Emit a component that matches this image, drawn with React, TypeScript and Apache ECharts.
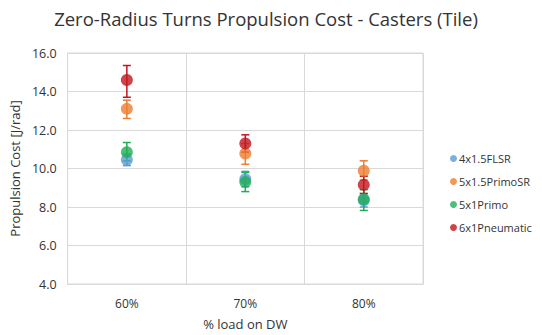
import React, { useEffect, useRef } from "react";
import * as echarts from "echarts";

const categories = ["60%", "70%", "80%"];
const seriesNames = ["4x1.5FLSR", "5x1.5PrimoSR", "5x1Primo", "6x1Pneumatic"];
const colors = ["#5b9bd5", "#ed7d31", "#1fae55", "#c0161e"];

const flsrValues = [10.45, 9.45, 8.35];
const flsrLow = [10.15, 9.05, 8.0];
const flsrHigh = [10.75, 9.85, 8.7];

const primoSRValues = [13.1, 10.78, 9.88];
const primoSRLow = [12.6, 10.22, 9.4];
const primoSRHigh = [13.55, 11.3, 10.4];

const primoValues = [10.85, 9.3, 8.4];
const primoLow = [10.4, 8.8, 7.82];
const primoHigh = [11.35, 9.8, 8.9];

const pneumaticValues = [14.6, 11.3, 9.15];
const pneumaticLow = [13.7, 10.85, 8.7];
const pneumaticHigh = [15.35, 11.75, 9.6];

const yTicks = [4, 6, 8, 10, 12, 14, 16];

const allValues = [flsrValues, primoSRValues, primoValues, pneumaticValues];
const allLow = [flsrLow, primoSRLow, primoLow, pneumaticLow];
const allHigh = [flsrHigh, primoSRHigh, primoHigh, pneumaticHigh];

export default function App() {
  const ref = useRef<HTMLDivElement>(null);
  useEffect(() => {
    if (!ref.current) return;
    const chart = echarts.init(ref.current, undefined, { renderer: "svg" });
    const font = "'Open Sans', sans-serif";
    const textColor = "#333333";
    const series: any[] = [];
    seriesNames.forEach((name, s) => {
      series.push({
        type: "custom",
        name: name + "-err",
        z: 2,
        silent: true,
        data: categories.map((_, i) => [i, allLow[s][i], allHigh[s][i]]),
        encode: { x: 0, y: [1, 2] },
        renderItem: (params: any, api: any) => {
          const i = api.value(0);
          const lo = api.coord([i, api.value(1)]);
          const hi = api.coord([i, api.value(2)]);
          const hw = 4;
          const style = { stroke: colors[s], lineWidth: 1.5 };
          return {
            type: "group",
            children: [
              { type: "line", shape: { x1: lo[0], y1: lo[1], x2: hi[0], y2: hi[1] }, style },
              { type: "line", shape: { x1: lo[0] - hw, y1: lo[1], x2: lo[0] + hw, y2: lo[1] }, style },
              { type: "line", shape: { x1: hi[0] - hw, y1: hi[1], x2: hi[0] + hw, y2: hi[1] }, style },
            ],
          };
        },
      });
    });
    seriesNames.forEach((name, s) => {
      series.push({
        type: "scatter",
        name,
        z: 3,
        symbol: "circle",
        symbolSize: 12,
        itemStyle: { color: colors[s] },
        data: allValues[s].map((v, i) => [i, v]),
      });
    });
    chart.setOption({
      animation: false,
      textStyle: { fontFamily: font },
      title: {
        text: "Zero-Radius Turns Propulsion Cost - Casters (Tile)",
        left: 261,
        textAlign: "center",
        top: 4,
        textStyle: { fontSize: 18.5, fontWeight: "normal", color: textColor, fontFamily: font },
      },
      legend: {
        data: seriesNames,
        orient: "vertical",
        left: 445,
        top: 148,
        itemGap: 12,
        itemWidth: 7,
        itemHeight: 7,
        icon: "circle",
        textStyle: { fontSize: 11, color: textColor, fontFamily: font, padding: [0, 0, 0, -3] },
      },
      grid: {
        left: 67,
        right: 119,
        top: 53,
        bottom: 45,
        show: true,
        borderColor: "#d9d9d9",
        borderWidth: 1,
      },
      xAxis: {
        type: "category",
        data: categories,
        boundaryGap: true,
        name: "% load on DW",
        nameLocation: "middle",
        nameGap: 33,
        nameTextStyle: { fontSize: 13, color: textColor },
        axisLine: { lineStyle: { color: "#d9d9d9" } },
        axisTick: { show: false },
        axisLabel: { fontSize: 12, color: textColor, margin: 13 },
        splitLine: { show: true, interval: 0, lineStyle: { color: "#d9d9d9" } },
      },
      yAxis: {
        type: "value",
        min: yTicks[0],
        max: yTicks[yTicks.length - 1],
        interval: 2,
        name: "Propulsion Cost [J/rad]",
        nameLocation: "middle",
        nameGap: 45,
        nameTextStyle: { fontSize: 13, color: textColor },
        axisLine: { show: false },
        axisTick: { show: false },
        axisLabel: { fontSize: 12.5, color: textColor, formatter: (v: number) => v.toFixed(1), margin: 11 },
        splitLine: { lineStyle: { color: "#d9d9d9" } },
      },
      series,
    });
    return () => chart.dispose();
  }, []);
  return <div ref={ref} style={{ width: 542, height: 335, position: "absolute", left: 0, top: 0 }} />;
}
